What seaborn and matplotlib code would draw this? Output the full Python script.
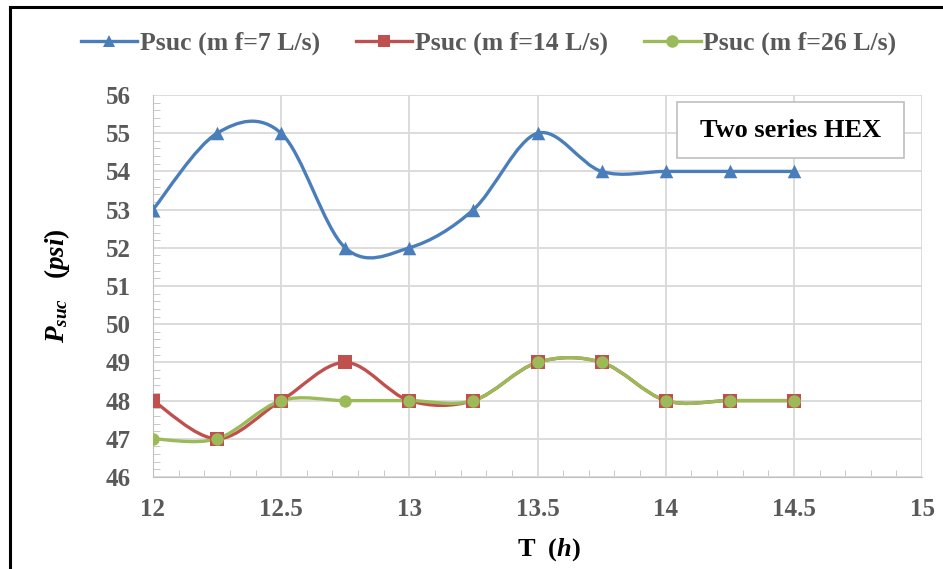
import seaborn as sns
import numpy as np
import pandas as pd
import matplotlib.pyplot as plt
from matplotlib.path import Path
from matplotlib.patches import PathPatch, Rectangle
from matplotlib.lines import Line2D
from matplotlib.ticker import MultipleLocator

# data
hours = [12, 12.25, 12.5, 12.75, 13, 13.25, 13.5, 13.75, 14, 14.25, 14.5]
p_7 = [53, 55, 55, 52, 52, 53, 55, 54, 54, 54, 54]
p_14 = [48, 47, 48, 49, 48, 48, 49, 49, 48, 48, 48]
p_26 = [47, 47, 48, 48, 48, 48, 49, 49, 48, 48, 48]
labels = ['Psuc (m f=7 L/s)', 'Psuc (m f=14 L/s)', 'Psuc (m f=26 L/s)']
colors = ['#4A7EBB', '#C0504D', '#9BBB59']
markers = ['^', 's', 'o']

df = pd.DataFrame({'T': hours * 3,
                   'P': p_7 + p_14 + p_26,
                   'series': [labels[0]] * len(hours) + [labels[1]] * len(hours) + [labels[2]] * len(hours)})


def smooth_path(x, y):
    # Excel style smoothed line: cubic bezier with catmull-rom control points
    pts = np.column_stack([x, y]).astype(float)
    ext = np.vstack([pts[0], pts, pts[-1]])
    verts = [pts[0]]
    codes = [Path.MOVETO]
    for i in range(1, len(ext) - 2):
        p0, p1, p2, p3 = ext[i - 1], ext[i], ext[i + 1], ext[i + 2]
        verts += [p1 + (p2 - p0) / 6, p2 - (p3 - p1) / 6, p2]
        codes += [Path.CURVE4] * 3
    return Path(verts, codes)


plt.rcParams['mathtext.fontset'] = 'custom'
plt.rcParams['mathtext.rm'] = 'Liberation Serif:bold'
plt.rcParams['mathtext.it'] = 'Liberation Serif:italic'
plt.rcParams['mathtext.bf'] = 'Liberation Serif:bold'
plt.rcParams['mathtext.bfit'] = 'Liberation Serif:bold:italic'
serif = ['Liberation Serif', 'DejaVu Serif']

fig = plt.figure(figsize=(9.43, 5.69), dpi=100)
ax = fig.add_axes([0.1622, 0.1617, 0.8156, 0.6713])

for i, lab in enumerate(labels):
    sub = df[df['series'] == lab]
    ax.add_patch(PathPatch(smooth_path(sub['T'], sub['P']), facecolor='none',
                           edgecolor=colors[i], lw=2.4, zorder=3, capstyle='round'))
    sns.scatterplot(data=sub, x='T', y='P', marker=markers[i], color=colors[i],
                    s=95 if markers[i] != 'o' else 80, edgecolor=colors[i], linewidth=0,
                    ax=ax, zorder=4, legend=False)

ax.set_xlim(12, 15)
ax.set_ylim(46, 56)
ax.xaxis.set_major_locator(MultipleLocator(0.5))
ax.xaxis.set_minor_locator(MultipleLocator(0.1))
ax.yaxis.set_major_locator(MultipleLocator(1))
ax.yaxis.set_minor_locator(MultipleLocator(0.2))
ax.xaxis.set_major_formatter(plt.FuncFormatter(lambda v, p: f'{v:g}'))
ax.grid(True, which='major', color='#D9D9D9', lw=1.3)
ax.set_axisbelow(True)
for s in ax.spines.values():
    s.set_visible(False)
ax.spines['left'].set_visible(True)
ax.spines['bottom'].set_visible(True)
ax.spines['left'].set_color('#BFBFBF')
ax.spines['bottom'].set_color('#BFBFBF')
ax.tick_params(which='both', direction='in', color='#BFBFBF', right=False, top=False)
ax.tick_params(which='major', length=0)
ax.tick_params(which='minor', length=5)
ax.tick_params(axis='x', pad=15)
ax.tick_params(axis='y', pad=16)
for t in ax.get_xticklabels() + ax.get_yticklabels():
    t.set_family(serif)
    t.set_fontweight('bold')
    t.set_fontsize(18)
    t.set_color('#595959')

ax.set_xlabel('T  ($\\mathbfit{h}$)', family=serif, fontweight='bold', fontsize=19, labelpad=11)
ax.set_ylabel('$\\mathbfit{P}_{\\mathbfit{suc}}$   ($\\mathbfit{psi}$)', family=serif,
              fontweight='bold', fontsize=19.5, labelpad=24)
ax.xaxis.set_label_coords(0.515, -0.155)

ax.add_patch(Rectangle((0.681, 0.835), 0.296, 0.147, transform=ax.transAxes,
                       facecolor='white', edgecolor='#BFBFBF', lw=1.2, zorder=5))
ax.text(0.829, 0.908, 'Two series HEX', transform=ax.transAxes, ha='center', va='center',
        family=serif, fontweight='bold', fontsize=19, color='black', zorder=6)

handles = [Line2D([0], [0], color=colors[i], lw=2.4, marker=markers[i], markersize=9,
                  markeredgewidth=0) for i in range(3)]
fig.legend(handles, labels, loc='center', bbox_to_anchor=(0.518, 0.924), ncol=3, frameon=False,
           prop={'family': serif, 'weight': 'bold', 'size': 18.5}, labelcolor='#595959',
           handlelength=2.2, handletextpad=0.1, columnspacing=1.4)

# outer frame of the original image (left and top edges)
fig.add_artist(Line2D([0.0106, 0.0106], [0, 0.988], transform=fig.transFigure, color='black', lw=2.2))
fig.add_artist(Line2D([0.0106, 1], [0.988, 0.988], transform=fig.transFigure, color='black', lw=2.2))

fig.savefig('out.png', dpi=100)
